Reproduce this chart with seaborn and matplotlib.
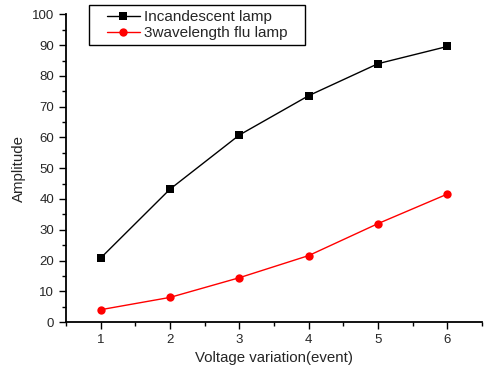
import matplotlib
matplotlib.use("Agg")
import matplotlib.pyplot as plt
import pandas as pd
import seaborn as sns
from matplotlib.lines import Line2D
from matplotlib.legend_handler import HandlerLine2D
from matplotlib.ticker import MultipleLocator

voltage = [1, 2, 3, 4, 5, 6]
incandescent = [20.8, 43.2, 60.8, 73.6, 84.0, 89.6]
flu_lamp = [4.0, 8.0, 14.4, 21.6, 32.0, 41.6]
series_names = ['Incandescent lamp', '3wavelength flu lamp']

df = pd.DataFrame({
    'Voltage': voltage * 2,
    'Amplitude': incandescent + flu_lamp,
    'Lamp': [series_names[0]] * 6 + [series_names[1]] * 6,
})

sns.set_style("ticks")
plt.rcParams['font.family'] = ['Liberation Sans', 'DejaVu Sans']

fig = plt.figure(figsize=(4.86, 3.73), dpi=100)
ax = fig.add_axes([0.1358, 0.1367, 0.856, 0.8245])

sns.lineplot(data=df, x='Voltage', y='Amplitude', hue='Lamp', style='Lamp',
             palette=['black', '#ff0000'], markers=['s', 'o'], dashes=False,
             markersize=6, markeredgewidth=0, linewidth=1, ax=ax)

ax.set_xlim(0.5, 6.5)
ax.set_ylim(0, 100)
ax.xaxis.set_major_locator(MultipleLocator(1))
ax.xaxis.set_minor_locator(MultipleLocator(0.5))
ax.yaxis.set_major_locator(MultipleLocator(10))
ax.yaxis.set_minor_locator(MultipleLocator(5))
ax.tick_params(which='major', direction='out', length=5, width=1, labelsize=9.5, color='black')
ax.tick_params(which='minor', direction='out', length=3, width=1, color='black')
for side in ['top', 'right']:
    ax.spines[side].set_visible(False)
for side in ['left', 'bottom']:
    ax.spines[side].set_linewidth(1.3)
    ax.spines[side].set_color('black')

ax.set_xlabel('Voltage variation(event)', fontsize=10.8)
ax.set_ylabel('Amplitude', fontsize=10.8)

# legend handle pushed right inside the frame, like the original
leg = ax.legend(loc='upper left', bbox_to_anchor=(0.055, 0, 0.52, 1.031), mode='expand',
                borderaxespad=0, fancybox=False, edgecolor='black', framealpha=1,
                fontsize=11, handlelength=3.0, handletextpad=0.27, borderpad=0.35,
                labelspacing=0.12, title=None,
                handler_map={Line2D: HandlerLine2D(xpad=0.82)})
leg.get_frame().set_linewidth(1)

fig.savefig('out.png', dpi=100)
